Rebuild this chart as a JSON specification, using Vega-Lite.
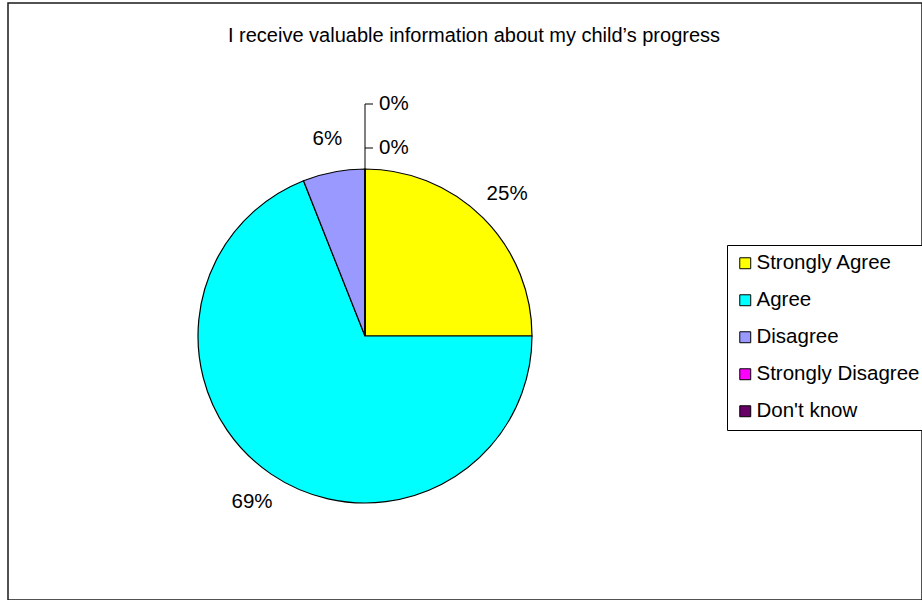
{
  "$schema": "https://vega.github.io/schema/vega-lite/v6.json",
  "width": 914,
  "height": 597,
  "autosize": {"type": "none"},
  "padding": {"left": 8, "top": 3, "right": 0, "bottom": 0},
  "background": "white",
  "config": {
    "view": {"stroke": "#1a1a1a", "strokeWidth": 1.5},
    "font": "Liberation Sans",
    "axis": {"disable": true}
  },
  "title": {
    "text": "I receive valuable information about my child’s progress",
    "font": "Liberation Sans",
    "fontSize": 20,
    "fontWeight": "normal",
    "color": "#000000",
    "anchor": "middle",
    "offset": -43,
    "dx": 9
  },
  "data": {
    "values": [
      {"response": "Strongly Agree", "pct": 25, "order": 1, "label": "25%"},
      {"response": "Agree", "pct": 69, "order": 2, "label": "69%"},
      {"response": "Disagree", "pct": 6, "order": 3, "label": "6%"},
      {"response": "Strongly Disagree", "pct": 0, "order": 4, "label": "0%"},
      {"response": "Don't know", "pct": 0, "order": 5, "label": "0%"}
    ]
  },
  "resolve": {"scale": {"x": "shared", "y": "shared"}},
  "layer": [
    {
      "mark": {"type": "arc", "radius": 167, "stroke": "#000000", "strokeWidth": 1.2},
      "encoding": {
        "x": {"datum": 0, "type": "quantitative", "scale": {"domain": [-357, 557], "nice": false, "zero": false}, "axis": null},
        "y": {"datum": 0, "type": "quantitative", "scale": {"domain": [-264, 333], "nice": false, "zero": false}, "axis": null},
        "theta": {"field": "pct", "type": "quantitative", "stack": true},
        "order": {"field": "order", "type": "quantitative"},
        "color": {
          "field": "response",
          "type": "nominal",
          "scale": {
            "domain": ["Strongly Agree", "Agree", "Disagree", "Strongly Disagree", "Don't know"],
            "range": ["#FFFF00", "#00FFFF", "#9999FF", "#FF00FF", "#660066"]
          },
          "legend": {
            "title": null,
            "orient": "none",
            "legendX": 719,
            "legendY": 242,
            "strokeColor": "#000000",
            "fillColor": "#ffffff",
            "padding": 8,
            "symbolType": "square",
            "symbolSize": 120,
            "symbolStrokeColor": "#000000",
            "symbolStrokeWidth": 1,
            "symbolOpacity": 1,
            "labelFont": "Liberation Sans",
            "labelFontSize": 20.5,
            "labelColor": "#000000",
            "labelOffset": 1,
            "rowPadding": 16,
            "labelLimit": 300
          }
        }
      }
    },
    {
      "transform": [{"filter": "datum.pct > 0"}],
      "mark": {"type": "text", "radius": 201, "fontSize": 20.5, "font": "Liberation Sans", "color": "#000000", "align": "center", "baseline": "middle"},
      "encoding": {
        "x": {"datum": 0, "type": "quantitative"},
        "y": {"datum": 0, "type": "quantitative"},
        "theta": {"field": "pct", "type": "quantitative", "stack": true},
        "order": {"field": "order", "type": "quantitative"},
        "detail": {"field": "response", "type": "nominal"},
        "text": {"field": "label", "type": "nominal"}
      }
    },
    {
      "transform": [{"filter": "datum.response === 'Strongly Disagree'"}],
      "mark": {"type": "text", "radius": 188, "dx": 14, "fontSize": 20.5, "font": "Liberation Sans", "color": "#000000", "align": "left", "baseline": "middle"},
      "encoding": {
        "x": {"datum": 0, "type": "quantitative"},
        "y": {"datum": 0, "type": "quantitative"},
        "text": {"field": "label", "type": "nominal"}
      }
    },
    {
      "transform": [{"filter": "datum.response === \"Don't know\""}],
      "mark": {"type": "text", "radius": 232, "dx": 14, "fontSize": 20.5, "font": "Liberation Sans", "color": "#000000", "align": "left", "baseline": "middle"},
      "encoding": {
        "x": {"datum": 0, "type": "quantitative"},
        "y": {"datum": 0, "type": "quantitative"},
        "text": {"field": "label", "type": "nominal"}
      }
    },
    {
      "data": {"values": [{}]},
      "mark": {"type": "rule", "color": "#000000", "strokeWidth": 1},
      "encoding": {
        "x": {"datum": 0, "type": "quantitative"},
        "y": {"datum": 167, "type": "quantitative"},
        "y2": {"datum": 232}
      }
    },
    {
      "data": {"values": [{}]},
      "mark": {"type": "rule", "color": "#000000", "strokeWidth": 1},
      "encoding": {
        "x": {"datum": 0, "type": "quantitative"},
        "x2": {"datum": 8},
        "y": {"datum": 232, "type": "quantitative"}
      }
    },
    {
      "data": {"values": [{}]},
      "mark": {"type": "rule", "color": "#000000", "strokeWidth": 1},
      "encoding": {
        "x": {"datum": 0, "type": "quantitative"},
        "x2": {"datum": 8},
        "y": {"datum": 188, "type": "quantitative"}
      }
    }
  ]
}
